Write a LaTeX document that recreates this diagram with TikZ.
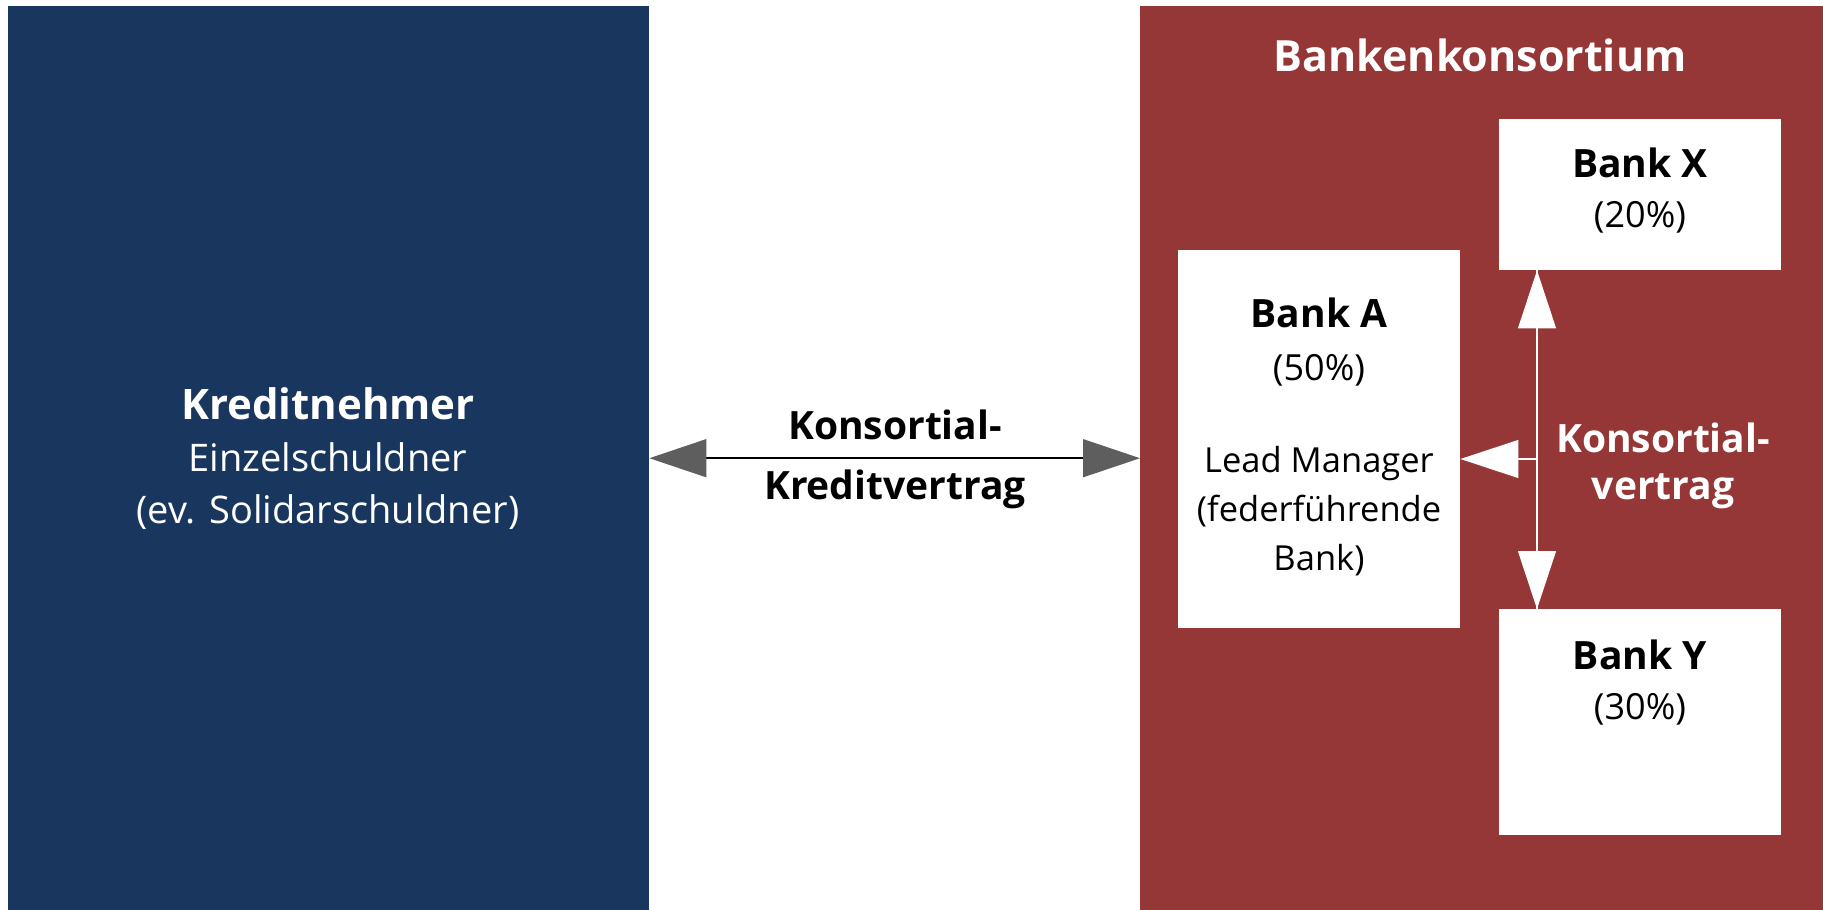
\documentclass[tikz,border=0pt]{standalone}
\usepackage{fontspec}
\setmainfont{Open Sans}
\usetikzlibrary{arrows.meta}
\definecolor{navy}{HTML}{19375E}
\definecolor{wine}{HTML}{943736}
\definecolor{arrgray}{HTML}{5E5E5E}
\newcommand{\bigbold}{\fontsize{39}{50}\selectfont\bfseries}
\newcommand{\pct}{\fontsize{36}{50}\selectfont\mdseries}
\tikzset{
  panel/.style={rectangle, inner sep=0pt, anchor=north west},
  bankbox/.style={rectangle, fill=white, inner sep=0pt, anchor=north west},
  lbl/.style={align=center, inner sep=0pt, font=\fontsize{38}{52}\selectfont},
  bld/.style={align=center, inner sep=0pt, font=\fontsize{39}{60}\selectfont\bfseries},
  grayarrow/.style={line width=1.5pt, draw=black,
    {Triangle[length=57pt,width=38pt,color=arrgray,fill=arrgray]}-{Triangle[length=57pt,width=38pt,color=arrgray,fill=arrgray]}},
  whitearrow/.style={line width=1.2pt, draw=white},
  whitetip/.style={-{Triangle[length=58pt,width=38pt,color=white,fill=white]}},
}
\begin{document}
\begin{tikzpicture}[x=1pt,y=-1pt]
\useasboundingbox (0,0) rectangle (1823,910);
% panels
\node[panel, fill=navy, minimum width=641pt, minimum height=904pt] (kred) at (8,6) {};
\node[panel, fill=wine, minimum width=683pt, minimum height=904pt] (kons) at (1140,6) {};
% bank boxes
\node[bankbox, minimum width=282pt, minimum height=151pt] (bankX) at (1499,119) {};
\node[bankbox, minimum width=282pt, minimum height=378pt] (bankA) at (1178,250) {};
\node[bankbox, minimum width=282pt, minimum height=226pt] (bankY) at (1499,609) {};
% texts
\node[lbl, text=white] (kredtxt) at (328,459)
  {{\fontsize{42}{52}\selectfont\bfseries Kreditnehmer}\\Einzelschuldner\\(ev. Solidarschuldner)};
\node[bld, text=white, font=\fontsize{43}{52}\selectfont\bfseries] (konstitle) at (1480,55) {Bankenkonsortium};
\node[bld] (vertrag) at (895,459) {Konsortial-\\Kreditvertrag};
\node[bld, text=white, font=\fontsize{39}{47}\selectfont\bfseries] (kvertrag) at (1663,466) {Konsortial-\\vertrag};
\node[lbl, font=\fontsize{36}{50}\selectfont] (xtxt) at (1640,191) {{\bigbold Bank X}\\{\pct (20\%)}};
\node[lbl, font=\fontsize{36}{50}\selectfont] (ytxt) at (1640,683) {{\bigbold Bank Y}\\{\pct (30\%)}};
\node[lbl, font=\fontsize{34.5}{49}\selectfont] (atxt) at (1319,437)
  {{\bigbold Bank A}\\[4pt]{\pct (50\%)}\\[43pt]Lead Manager\\(federführende\\Bank)};
% connectors
\draw[grayarrow] (kred.east) -- (kons.west);
\coordinate (j) at (1537,459);
\draw[whitearrow] (j |- bankX.south) -- (j |- bankY.north);
\draw[whitearrow, whitetip] (j |- bankX.south) ++(0,59) -- (j |- bankX.south);
\draw[whitearrow, whitetip] (j |- bankY.north) ++(0,-59) -- (j |- bankY.north);
\draw[whitearrow, whitetip] (j) -- (j -| bankA.east);
\end{tikzpicture}
\end{document}
